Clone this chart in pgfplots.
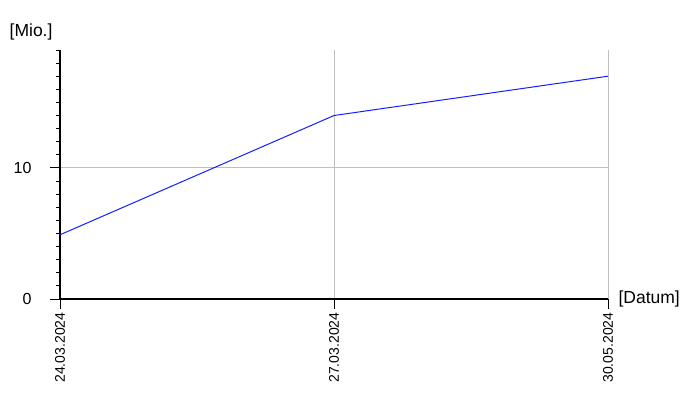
\documentclass[border=0pt]{standalone}
\usepackage{pgfplots}
\pgfplotsset{compat=1.18}
\usepackage{fontspec}
\setmainfont{Liberation Sans}
\begin{document}
\begin{tikzpicture}
\begin{axis}[
  scale only axis,
  width=548pt, height=249pt,
  xmin=0, xmax=2, ymin=0, ymax=19,
  axis lines=left,
  axis line style={-, line width=1.2pt},
  xtick={0,1,2},
  xticklabels={24.03.2024,27.03.2024,30.05.2024},
  xticklabel style={rotate=90, anchor=east, font=\fontsize{14}{14}\selectfont},
  ytick={0,10},
  minor ytick={1,2,3,4,5,6,7,8,9,11,12,13,14,15,16,17,18,19},
  yticklabel style={font=\fontsize{16}{16}\selectfont, xshift=-15pt},
  tick align=outside,
  major tick length=10pt, minor tick length=4pt,
  tick style={black, line width=0.9pt},
  xmajorgrids, ymajorgrids,
  grid style={color=black!25, line width=0.9pt},
  /pgf/number format/assume math mode=true,
  clip=false,
]
\addplot[color={rgb,255:red,20;green,30;blue,255}, line width=1pt] coordinates {(0,4.9) (1,14.0) (2,17.0)};
\node[anchor=base east, font=\fontsize{17.5}{17.5}\selectfont] at ([shift={(-4pt,13pt)}]rel axis cs:0,1) {[Mio.]};
\node[anchor=west, font=\fontsize{17.5}{17.5}\selectfont] at ([shift={(7pt,0pt)}]rel axis cs:1,0) {[Datum]};
\end{axis}
\pgfresetboundingbox
\path ([shift={(-60pt,-101pt)}]current axis.south west) rectangle ([shift={(92pt,50pt)}]current axis.north east);
\end{tikzpicture}
\end{document}
